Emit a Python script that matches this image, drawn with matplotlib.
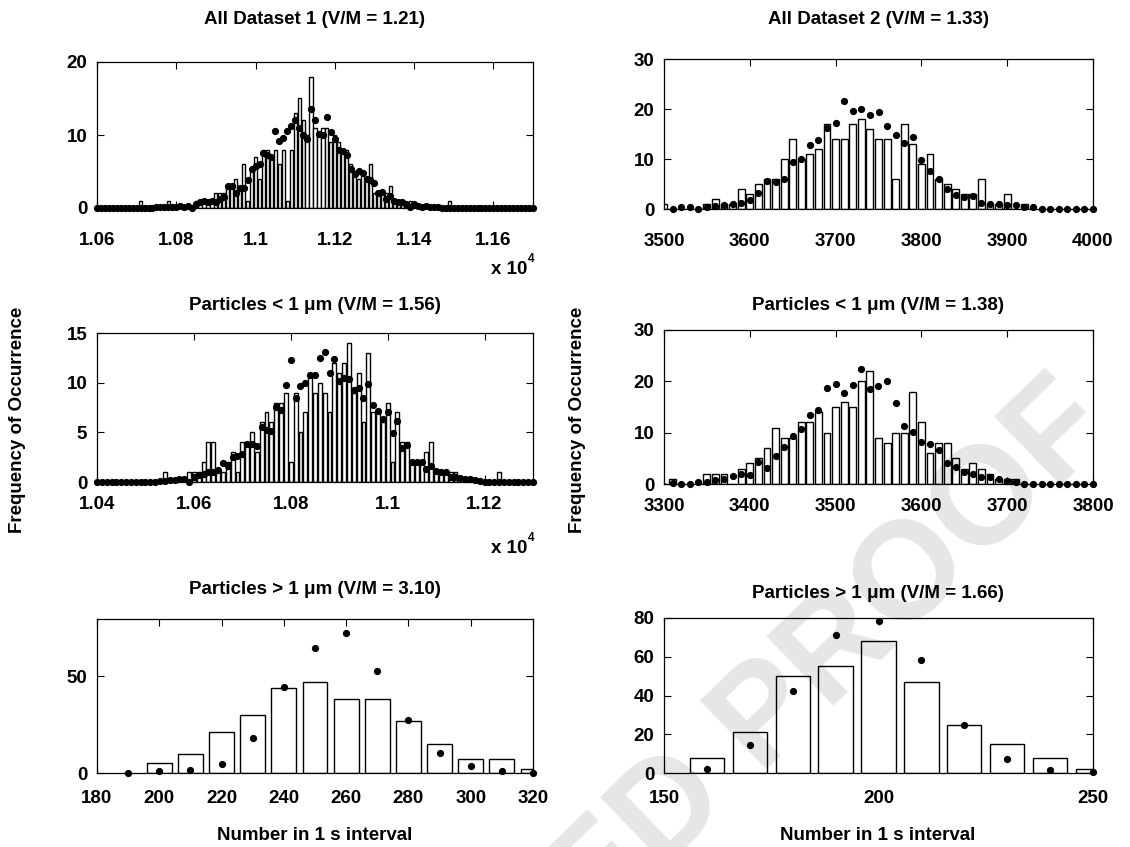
import matplotlib.pyplot as plt
import numpy as np

plt.rcParams['font.family'] = ['Liberation Sans', 'DejaVu Sans']
plt.rcParams['font.weight'] = 'bold'

W, H = 1130, 847

# ---- All Dataset 1 : bins of 10 from 10600 to 11700
ds1_start = 10600
ds1_bars = [0, 0, 0, 0, 0, 0, 0, 0, 0, 0, 0, 1, 0, 0, 0, 0, 0, 0, 1, 0,
            0, 0, 0, 0, 0, 1, 0, 1, 1, 1, 2, 2, 2, 3, 3, 4, 3, 6, 1, 5,
            7, 4, 8, 8, 7, 8, 6, 8, 1, 8, 13, 15, 12, 10, 18, 11, 10, 11, 11, 9,
            10, 9, 8, 8, 6, 5, 4, 5, 4, 6, 2, 2, 2, 2, 3, 1, 1, 1, 0, 1,
            0, 0, 0, 0, 0, 0, 0, 0, 0, 1, 0, 0, 0, 0, 0, 0, 0, 0, 0, 0,
            0, 0, 0, 0, 0, 0, 0, 0, 0, 0, 0]
ds1_dots = [0, 0, 0, 0, 0, 0, 0, 0, 0, 0, 0, 0, 0, 0, 0, 0.1, 0.1, 0.1, 0.2, 0.2,
            0.2, 0.3, 0.2, 0.3, 0, 0.5, 0.8, 1.0, 0.8, 1.0, 0.8, 1.2, 1.5, 3.0, 3.0, 2.0, 2.8, 2.7, 3.8, 5.3,
            5.7, 6.0, 7.5, 7.2, 7.0, 10.5, 9.2, 9.6, 10.5, 11.2, 12.0, 11.0, 10.0, 9.5, 13.5, 12.0, 10.2, 10.0, 12.5, 10.4,
            9.5, 8.0, 7.8, 7.2, 5.4, 4.6, 5.0, 4.8, 4.0, 3.9, 3.4, 2.0, 2.2, 1.3, 1.6, 0.9, 0.8, 0.8, 0.5, 0.2,
            0.5, 0.3, 0.2, 0.3, 0.1, 0.2, 0.1, 0, 0, 0, 0, 0, 0, 0, 0, 0, 0, 0, 0, 0,
            0, 0, 0, 0, 0, 0, 0, 0, 0, 0, 0]

# ---- All Dataset 2 : bins of 10 from 3500 to 4000
ds2_start = 3500
ds2_bars = [1, 0, 0, 0, 0, 1, 2, 1, 1, 4, 3, 5, 6, 6, 10, 14, 10, 11, 12, 17,
            14, 14, 17, 18, 16, 14, 14, 6, 17, 13, 9, 11, 6, 5, 4, 3, 3, 6, 1, 1,
            3, 0, 1, 0, 0, 0, 0, 0, 0, 0, 0]
ds2_dot_start = 3510
ds2_dots = [0, 0.3, 0.3, 0, 0.3, 0.6, 0.8, 1.0, 1.2, 1.8, 3.2, 5.6, 5.4, 6.0, 9.3, 10.0, 12.7, 13.7, 16.2, 17.2,
            21.5, 19.5, 20.0, 18.8, 19.3, 16.6, 14.7, 13.2, 14.4, 9.8, 7.6, 6.0, 3.9, 2.8, 2.3, 2.6, 1.2, 1.0, 1.0, 0.8,
            0.8, 0.3, 0.3, 0, 0, 0, 0, 0, 0, 0]

# ---- Dataset 1, particles < 1 um : bins of 10 from 10400 to 11300
small1_start = 10400
small1_bars = [0, 0, 0, 0, 0, 0, 0, 0, 0, 0, 0, 0, 0, 0, 1, 0, 0, 0, 0, 1,
               1, 1, 2, 4, 4, 1, 1, 2, 3, 1, 4, 4, 5, 3, 6, 7, 6, 8, 8, 9,
               2, 9, 5, 7, 11, 9, 10, 9, 7, 12, 11, 12, 14, 9, 11, 6, 13, 7, 7, 6,
               8, 2, 7, 4, 4, 2, 2, 2, 3, 4, 1, 1, 1, 1, 1, 0, 0, 0, 0, 0,
               0, 0, 0, 1, 0, 0, 0, 0, 0, 0, 0]
small1_dots = [0, 0, 0, 0, 0, 0, 0, 0, 0, 0, 0, 0, 0, 0.1, 0.1, 0.2, 0.2, 0.3, 0.3, 0,
               0.5, 0.7, 0.8, 1.0, 1.0, 1.2, 1.9, 1.6, 2.5, 2.6, 2.8, 3.8, 3.8, 3.6, 5.5, 5.2, 5.1, 7.5, 7.2, 9.8,
               12.3, 8.5, 9.7, 10.0, 10.8, 10.8, 12.5, 13.1, 11.0, 12.4, 10.2, 10.5, 10.4, 9.3, 9.5, 8.5, 9.9, 7.8, 7.1, 6.3,
               7.0, 4.9, 6.1, 3.4, 3.7, 2.0, 2.0, 2.0, 1.3, 1.6, 1.1, 1.0, 1.0, 0.5, 0.5, 0.4, 0.3, 0.3, 0.2, 0.1,
               0, 0, 0, 0, 0, 0, 0, 0, 0, 0, 0]

# ---- Dataset 2, particles < 1 um : bins of 10 from 3300 to 3800
small2_start = 3300
small2_bars = [0, 1, 0, 0, 0, 2, 2, 2, 0, 3, 4, 5, 7, 11, 9, 9, 12, 12, 14, 10,
               15, 16, 15, 20, 22, 9, 8, 10, 10, 18, 12, 6, 8, 8, 5, 3, 4, 3, 2, 1,
               1, 1, 0, 0, 0, 0, 0, 0, 0, 0, 0]
small2_dot_start = 3310
small2_dots = [0.2, 0, 0, 0.4, 0.4, 0.8, 1.0, 1.6, 1.9, 1.8, 4.3, 3.2, 5.5, 7.2, 9.4, 10.8, 13.5, 14.5, 18.7, 19.4,
               17.7, 19.2, 22.4, 18.5, 19.0, 20.1, 15.7, 11.3, 10.1, 8.2, 7.7, 6.7, 4.0, 3.4, 2.3, 1.9, 1.4, 1.3, 0.9, 0.6,
               0.4, 0, 0, 0, 0, 0, 0, 0, 0, 0]

# ---- particles > 1 um, bins of 10
large1_x = [200, 210, 220, 230, 240, 250, 260, 270, 280, 290, 300, 310, 320]
large1_bars = [5, 10, 21, 30, 44, 47, 38, 38, 27, 15, 7, 7, 2]
large1_dot_x = [190, 200, 210, 220, 230, 240, 250, 260, 270, 280, 290, 300, 310, 320]
large1_dots = [0, 1, 1.4, 4.5, 18.2, 44.3, 64.4, 72.5, 52.4, 27.5, 10.5, 3.8, 0.9, 0]

large2_x = [160, 170, 180, 190, 200, 210, 220, 230, 240, 250]
large2_bars = [8, 21, 50, 55, 68, 47, 25, 15, 8, 2]
large2_dots = [2.2, 14.6, 42.2, 71.4, 78.3, 58.5, 25, 7.4, 1.7, 0.3]

titles = ['All Dataset 1 (V/M = 1.21)', 'All Dataset 2 (V/M = 1.33)',
          'Particles < 1 \u03bcm (V/M = 1.56)', 'Particles < 1 \u03bcm (V/M = 1.38)',
          'Particles > 1 \u03bcm (V/M = 3.10)', 'Particles > 1 \u03bcm (V/M = 1.66)']

FS = 13.5


def px_axes(fig, left, top, right, bottom):
    return fig.add_axes([left / W, 1 - bottom / H, (right - left) / W, (bottom - top) / H])


def panel(ax, bx, by, dx, dy, xlim, ylim, xticks, xlabels, yticks, xpad):
    ax.bar(bx, by, width=8, color='white', edgecolor='black', linewidth=1.0, zorder=2)
    ax.plot(dx, dy, 'o', color='black', markersize=4.2, clip_on=False, zorder=3)
    ax.set_xlim(*xlim)
    ax.set_ylim(*ylim)
    ax.set_xticks(xticks)
    ax.set_xticklabels(xlabels)
    ax.set_yticks(yticks)
    ax.tick_params(direction='in', top=True, right=True, length=5, width=0.8,
                   labelsize=FS)
    ax.tick_params(axis='x', pad=xpad)
    ax.tick_params(axis='y', pad=7)
    for s in ax.spines.values():
        s.set_linewidth(0.9)
    for lab in ax.get_xticklabels() + ax.get_yticklabels():
        lab.set_fontweight('bold')


fig = plt.figure(figsize=(W / 100, H / 100), dpi=100)

ax1 = px_axes(fig, 97, 62, 533, 208)
panel(ax1, ds1_start + 10 * np.arange(len(ds1_bars)), ds1_bars,
      ds1_start + 10 * np.arange(len(ds1_dots)), ds1_dots,
      (10600, 11700), (0, 20), [10600, 10800, 11000, 11200, 11400, 11600],
      ['1.06', '1.08', '1.1', '1.12', '1.14', '1.16'], [0, 10, 20], 17)

ax2 = px_axes(fig, 664, 59, 1093, 209)
panel(ax2, ds2_start + 10 * np.arange(len(ds2_bars)), ds2_bars,
      ds2_dot_start + 10 * np.arange(len(ds2_dots)), ds2_dots,
      (3500, 4000), (0, 30), [3500, 3600, 3700, 3800, 3900, 4000],
      ['3500', '3600', '3700', '3800', '3900', '4000'], [0, 10, 20, 30], 17)

ax3 = px_axes(fig, 97, 333, 533, 482)
panel(ax3, small1_start + 10 * np.arange(len(small1_bars)), small1_bars,
      small1_start + 10 * np.arange(len(small1_dots)), small1_dots,
      (10400, 11300), (0, 15), [10400, 10600, 10800, 11000, 11200],
      ['1.04', '1.06', '1.08', '1.1', '1.12'], [0, 5, 10, 15], 10)

ax4 = px_axes(fig, 664, 330, 1093, 484)
panel(ax4, small2_start + 10 * np.arange(len(small2_bars)), small2_bars,
      small2_dot_start + 10 * np.arange(len(small2_dots)), small2_dots,
      (3300, 3800), (0, 30), [3300, 3400, 3500, 3600, 3700, 3800],
      ['3300', '3400', '3500', '3600', '3700', '3800'], [0, 10, 20, 30], 10)

ax5 = px_axes(fig, 97, 619, 533, 773)
panel(ax5, large1_x, large1_bars, large1_dot_x, large1_dots,
      (180, 320), (0, 79.5), [180, 200, 220, 240, 260, 280, 300, 320],
      ['180', '200', '220', '240', '260', '280', '300', '320'], [0, 50], 12)

ax6 = px_axes(fig, 664, 618, 1093, 773)
panel(ax6, large2_x, large2_bars, large2_x, large2_dots,
      (150, 250), (0, 80), [150, 200, 250], ['150', '200', '250'],
      [0, 20, 40, 60, 80], 12)

# titles, placed in pixel coordinates
title_pos = [(315, 20), (878, 20), (315, 305), (878, 305), (315, 590), (878, 593)]
for t, (x, y) in zip(titles, title_pos):
    fig.text(x / W, 1 - y / H, t, ha='center', va='center', fontsize=FS, fontweight='bold')

# exponent notes under the first column
for y in (269, 548):
    fig.text(527 / W, 1 - y / H, 'x 10', ha='right', va='center', fontsize=FS, fontweight='bold')
    fig.text(528 / W, 1 - (y - 10) / H, '4', ha='left', va='center', fontsize=8.5, fontweight='bold')

for x in (18, 578):
    fig.text(x / W, 1 - 420 / H, 'Frequency of Occurrence', rotation=90, ha='center', va='center',
             fontsize=FS, fontweight='bold')
for x in (315, 878):
    fig.text(x / W, 1 - 835 / H, 'Number in 1 s interval', ha='center', va='center',
             fontsize=FS, fontweight='bold')

# watermark
fig.text(625 / W, 1 - 857 / H, 'ACCEPTED PROOF', rotation=44, rotation_mode='anchor',
         ha='center', va='center', fontsize=100, fontweight='bold', color='black', alpha=0.1)

fig.savefig('out.png', dpi=100)
